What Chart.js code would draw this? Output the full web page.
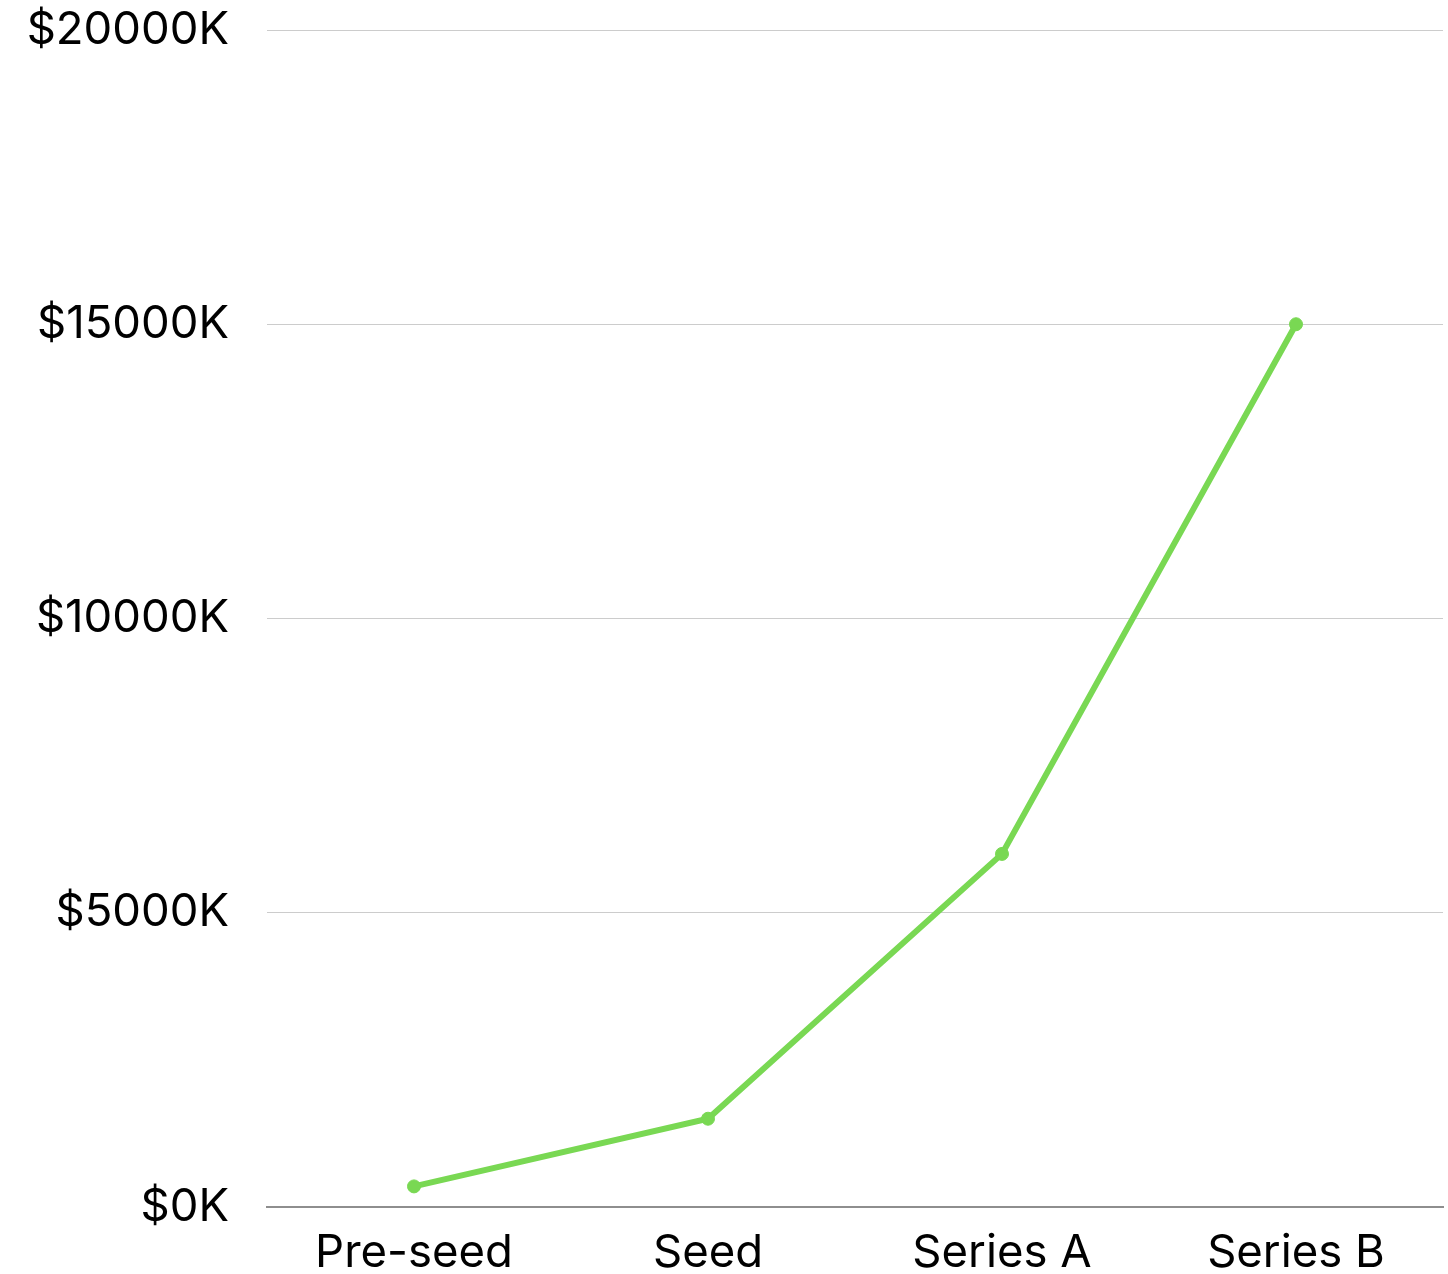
<!DOCTYPE html>
<html>
<head>
<meta charset="utf-8">
<script src="https://cdn.jsdelivr.net/npm/chart.js@4/dist/chart.umd.min.js"></script>
<style>
  html, body { margin: 0; padding: 0; background: #fff; }
  .chart-wrap { width: 1448px; height: 1274px; position: relative; }
</style>
</head>
<body>
<div class="chart-wrap"><canvas id="roundChart"></canvas></div>
<script>
/* Rodadas de captação e valores (em milhares de dólares) */
const rounds = ["Pre-seed", "Seed", "Series A", "Series B"];
const raised = [350, 1500, 6000, 15000];
const yTicks = [0, 5000, 10000, 15000, 20000];

const ctx = document.getElementById('roundChart').getContext('2d');

new Chart(ctx, {
  type: 'line',
  data: {
    labels: rounds,
    datasets: [{
      data: raised,
      borderColor: '#79d853',
      backgroundColor: '#79d853',
      borderWidth: 6,
      pointRadius: 6.5,
      pointBorderWidth: 1,
      tension: 0
    }]
  },
  options: {
    responsive: true,
    maintainAspectRatio: false,
    animation: false,
    layout: { autoPadding: false, padding: { top: 0, right: 5, bottom: 0, left: 0 } },
    plugins: { legend: { display: false }, tooltip: { enabled: false } },
    scales: {
      x: {
        offset: true,
        // altura fixa da faixa dos rótulos de baixo
        afterFit: axis => { axis.height = 67; axis.paddingRight = 0; },
        grid: { display: false, drawTicks: false },
        border: { display: true, color: '#8e8e8e', width: 2 },
        ticks: {
          color: '#000',
          padding: 19,
          font: { family: 'Inter', size: 45.5 }
        }
      },
      y: {
        min: 0,
        max: 20000,
        afterBuildTicks: axis => { axis.ticks = yTicks.map(v => ({ value: v })); },
        // largura fixa do eixo e margem do topo (o padding dos ticks somava demais)
        afterFit: axis => {
          axis.width = 267;
          axis.paddingTop = 30;
          axis.paddingBottom = 0;
        },
        grid: { color: '#cccccc', lineWidth: 1, drawTicks: false },
        border: { display: false },
        ticks: {
          color: '#000',
          padding: 38,
          font: { family: 'Inter', size: 45.5 },
          callback: v => '$' + v + 'K'
        }
      }
    }
  }
});
</script>
</body>
</html>
